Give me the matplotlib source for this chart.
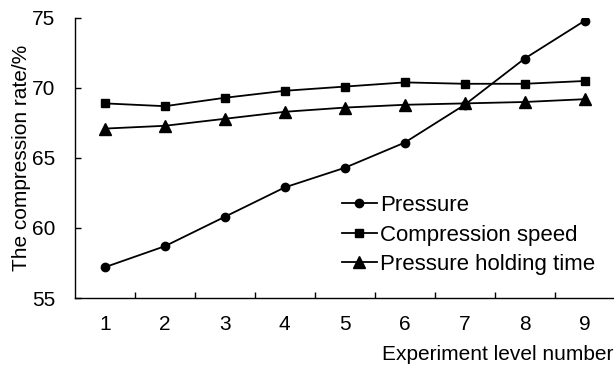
import matplotlib
matplotlib.use('Agg')
import matplotlib.pyplot as plt
from matplotlib.ticker import FixedLocator

matplotlib.rc('font', **{'family': ['Liberation Sans', 'DejaVu Sans'], 'size': 15})

levels = [1, 2, 3, 4, 5, 6, 7, 8, 9]
pressure = [57.2, 58.7, 60.8, 62.9, 64.3, 66.1, 68.8, 72.1, 74.8]
speed = [68.9, 68.7, 69.3, 69.8, 70.1, 70.4, 70.3, 70.3, 70.5]
holding = [67.1, 67.3, 67.8, 68.3, 68.6, 68.8, 68.9, 69.0, 69.2]
yticks = [55, 60, 65, 70, 75]

fig = plt.figure(figsize=(6.14, 3.67), dpi=100)
ax = fig.add_axes([0.122, 0.188, 0.879, 0.763])

ax.plot(levels, pressure, 'k-', marker='o', markersize=6, linewidth=1.3, label='Pressure')
ax.plot(levels, speed, 'k-', marker='s', markersize=6, linewidth=1.3, label='Compression speed')
ax.plot(levels, holding, 'k-', marker='^', markersize=8, linewidth=1.3, label='Pressure holding time')

ax.set_xlim(0.5, 9.5)
ax.set_ylim(55, 75)
ax.set_yticks(yticks)
ax.set_xticks(levels)
ax.xaxis.set_minor_locator(FixedLocator([x + 0.5 for x in levels]))
ax.tick_params(axis='x', which='major', length=0, pad=12)
ax.tick_params(axis='x', which='minor', direction='in', length=4.5, width=1)
ax.tick_params(axis='y', direction='in', length=4.5, width=1, pad=14)

for side in ['top', 'right']:
    ax.spines[side].set_visible(False)
for side in ['left', 'bottom']:
    ax.spines[side].set_linewidth(1)

ax.set_ylabel('The compression rate/%', labelpad=1)
fig.text(0.999, 0.008, 'Experiment level number', ha='right', va='bottom', fontsize=15)

ax.legend(loc='upper left', bbox_to_anchor=(0.494, 0.367), frameon=False,
          borderpad=0, borderaxespad=0, handlelength=1.6, handletextpad=0.15,
          labelspacing=0.38, fontsize=16)

fig.savefig('out.png', dpi=100)
